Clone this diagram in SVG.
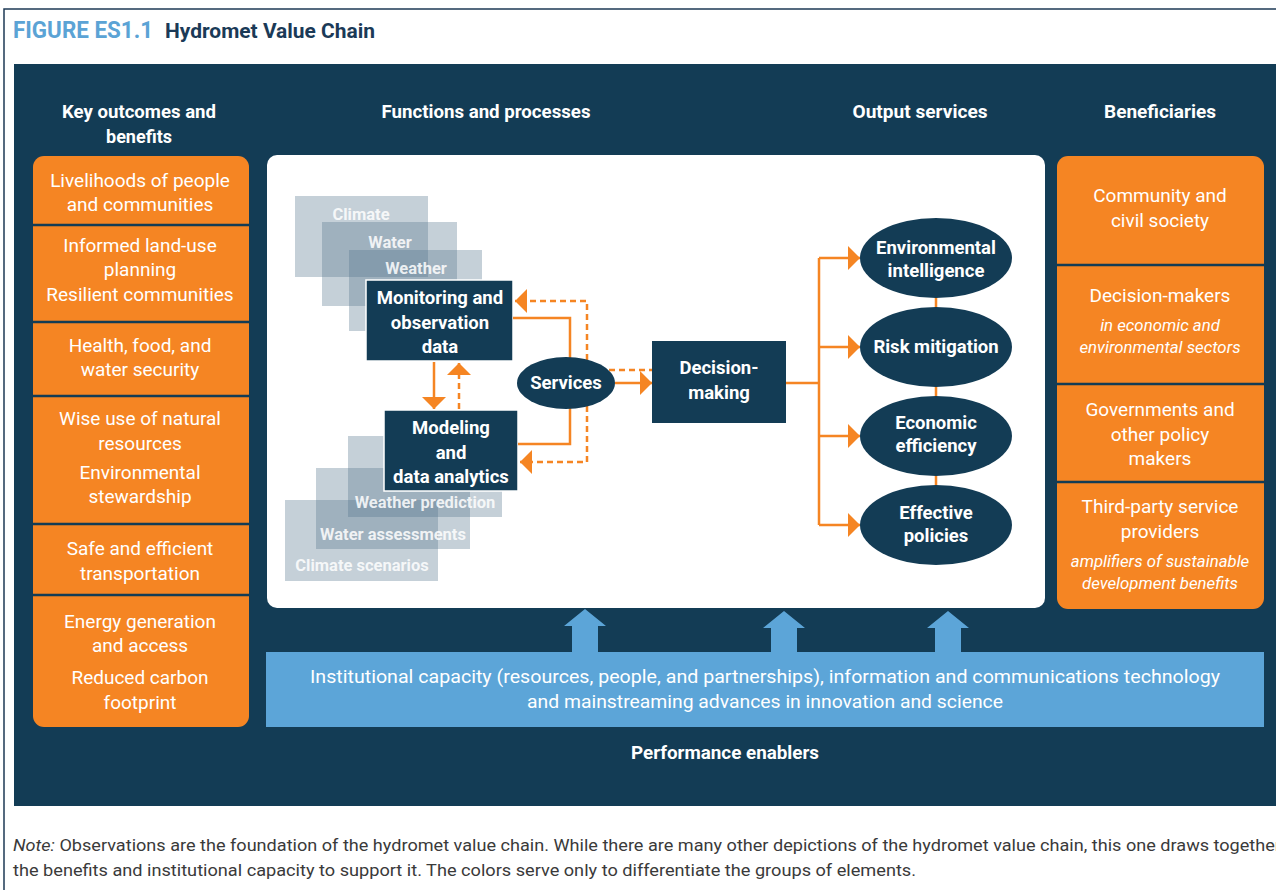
<svg xmlns="http://www.w3.org/2000/svg" width="1276" height="890" viewBox="0 0 1276 890">
<style>
text{font-family:Roboto,"Liberation Sans",sans-serif;}
.hd{font-size:18px;font-weight:bold;fill:#fff;text-anchor:middle;}
.ot{font-size:19px;fill:#fff;text-anchor:middle;}
.it{font-size:16.8px;font-style:italic;fill:#fff;text-anchor:middle;}
.nb{font-size:18.5px;font-weight:bold;fill:#fff;text-anchor:middle;}
.gt{font-size:16.5px;font-weight:bold;fill:#fff;fill-opacity:0.85;text-anchor:middle;}
.gb{fill:#56758c;fill-opacity:0.34;}
.dk{fill:#133c55;}
.sep{stroke:#133c55;stroke-width:2.5;}
.c{fill:none;stroke:#f58523;stroke-width:2.5;}
.d{fill:none;stroke:#f58523;stroke-width:2.5;stroke-dasharray:6 4;}
.bar{fill:#5ca5d8;}
</style>
<defs>
<marker id="ah" markerUnits="userSpaceOnUse" markerWidth="13" markerHeight="24" refX="12" refY="12" orient="auto">
<path d="M0,0 L12,12 L0,24 z" fill="#f58523"/>
</marker>
</defs>
<rect x="0" y="0" width="1276" height="890" fill="#fff"/>
<path d="M4,900 V9 H1280" fill="none" stroke="#1e3a55" stroke-width="1.5"/>
<g id="title">
<text x="13" y="38" font-size="23" font-weight="bold" fill="#5ba3d5" textLength="140" lengthAdjust="spacingAndGlyphs">FIGURE ES1.1</text>
<text x="165" y="38" font-size="20" font-weight="bold" fill="#1b3a57" textLength="210" lengthAdjust="spacingAndGlyphs">Hydromet Value Chain</text>
</g>
<rect x="14" y="64" width="1270" height="742" class="dk"/>
<g id="headers">
<text class="hd" x="139" y="118" textLength="154" lengthAdjust="spacingAndGlyphs">Key outcomes and</text>
<text class="hd" x="139" y="143">benefits</text>
<text class="hd" x="486" y="118" textLength="209" lengthAdjust="spacingAndGlyphs">Functions and processes</text>
<text class="hd" x="920" y="118" textLength="135" lengthAdjust="spacingAndGlyphs">Output services</text>
<text class="hd" x="1160" y="118" textLength="112" lengthAdjust="spacingAndGlyphs">Beneficiaries</text>
</g>
<g id="outcomes">
<rect x="33" y="156" width="216" height="571" rx="11" fill="#f58523"/>
<line class="sep" x1="33" y1="225" x2="249" y2="225"/>
<line class="sep" x1="33" y1="322" x2="249" y2="322"/>
<line class="sep" x1="33" y1="396" x2="249" y2="396"/>
<line class="sep" x1="33" y1="524" x2="249" y2="524"/>
<line class="sep" x1="33" y1="595" x2="249" y2="595"/>
<text class="ot" x="140" y="187">Livelihoods of people</text>
<text class="ot" x="140" y="211">and communities</text>
<text class="ot" x="140" y="252">Informed land-use</text>
<text class="ot" x="140" y="276">planning</text>
<text class="ot" x="140" y="301">Resilient communities</text>
<text class="ot" x="140" y="352">Health, food, and</text>
<text class="ot" x="140" y="376">water security</text>
<text class="ot" x="140" y="425">Wise use of natural</text>
<text class="ot" x="140" y="450">resources</text>
<text class="ot" x="140" y="479">Environmental</text>
<text class="ot" x="140" y="503">stewardship</text>
<text class="ot" x="140" y="555">Safe and efficient</text>
<text class="ot" x="140" y="580">transportation</text>
<text class="ot" x="140" y="628">Energy generation</text>
<text class="ot" x="140" y="652">and access</text>
<text class="ot" x="140" y="684">Reduced carbon</text>
<text class="ot" x="140" y="709">footprint</text>
</g>
<rect id="panel" x="267" y="155" width="778" height="453" rx="10" fill="#fff"/>
<g id="obs-stack">
<rect class="gb" x="295" y="196" width="133" height="81"/>
<text class="gt" x="361" y="220">Climate</text>
<rect class="gb" x="322" y="222" width="135" height="84"/>
<text class="gt" x="390" y="248">Water</text>
<rect class="gb" x="349" y="250" width="133" height="81"/>
<text class="gt" x="416" y="274">Weather</text>
</g>
<g id="model-stack">
<rect class="gb" x="285" y="500" width="153" height="81"/>
<text class="gt" x="362" y="571">Climate scenarios</text>
<rect class="gb" x="316" y="468" width="154" height="81"/>
<text class="gt" x="393" y="540">Water assessments</text>
<rect class="gb" x="348" y="436" width="154" height="81"/>
<text class="gt" x="425" y="508">Weather prediction</text>
</g>
<g id="monitoring">
<rect x="366" y="280" width="147" height="81" class="dk" stroke="#fff" stroke-width="1.5"/>
<text class="nb" x="440" y="304">Monitoring and</text>
<text class="nb" x="440" y="329">observation</text>
<text class="nb" x="440" y="353">data</text>
</g>
<g id="modeling">
<rect x="384" y="410" width="134" height="81" class="dk" stroke="#fff" stroke-width="1.5"/>
<text class="nb" x="451" y="434">Modeling</text>
<text class="nb" x="451" y="459">and</text>
<text class="nb" x="451" y="483">data analytics</text>
</g>
<g id="connectors">
<line class="c" x1="434" y1="362" x2="434" y2="409" marker-end="url(#ah)"/>
<line class="d" x1="459" y1="409" x2="459" y2="363" marker-end="url(#ah)"/>
<path class="c" d="M513,318 H570 V358"/>
<path class="c" d="M518,444 H570 V408"/>
<path class="d" d="M587,360 V301 H515" marker-end="url(#ah)"/>
<path class="d" d="M587,406 V462 H520" marker-end="url(#ah)"/>
<path class="d" d="M609,370 H652"/>
<line class="c" x1="615" y1="383" x2="652" y2="383" marker-end="url(#ah)"/>
<path class="c" d="M786,383 H819"/>
<path class="c" d="M819,258 V525"/>
<line class="c" x1="819" y1="258" x2="860" y2="258" marker-end="url(#ah)"/>
<line class="c" x1="819" y1="347" x2="860" y2="347" marker-end="url(#ah)"/>
<line class="c" x1="819" y1="436" x2="860" y2="436" marker-end="url(#ah)"/>
<line class="c" x1="819" y1="525" x2="860" y2="525" marker-end="url(#ah)"/>
<line class="c" x1="936" y1="258" x2="936" y2="525"/>
</g>
<g id="services">
<ellipse cx="566" cy="383" rx="49" ry="26" class="dk"/>
<text class="nb" x="566" y="389">Services</text>
</g>
<g id="decision">
<rect x="652" y="341" width="134" height="82" class="dk"/>
<text class="nb" x="719" y="374">Decision-</text>
<text class="nb" x="719" y="399">making</text>
</g>
<g id="env-intel">
<ellipse cx="936" cy="258" rx="76" ry="40" class="dk"/>
<text class="nb" x="936" y="254">Environmental</text>
<text class="nb" x="936" y="277">intelligence</text>
</g>
<g id="risk">
<ellipse cx="936" cy="347" rx="76" ry="40" class="dk"/>
<text class="nb" x="936" y="353">Risk mitigation</text>
</g>
<g id="econ">
<ellipse cx="936" cy="436" rx="76" ry="40" class="dk"/>
<text class="nb" x="936" y="429">Economic</text>
<text class="nb" x="936" y="452">efficiency</text>
</g>
<g id="policies">
<ellipse cx="936" cy="525" rx="76" ry="40" class="dk"/>
<text class="nb" x="936" y="519">Effective</text>
<text class="nb" x="936" y="542">policies</text>
</g>
<g id="beneficiaries">
<rect x="1057" y="156" width="207" height="453" rx="11" fill="#f58523"/>
<line class="sep" x1="1057" y1="265" x2="1264" y2="265"/>
<line class="sep" x1="1057" y1="384" x2="1264" y2="384"/>
<line class="sep" x1="1057" y1="482" x2="1264" y2="482"/>
<text class="ot" x="1160" y="202">Community and</text>
<text class="ot" x="1160" y="227">civil society</text>
<text class="ot" x="1160" y="302">Decision-makers</text>
<text class="it" x="1160" y="331">in economic and</text>
<text class="it" x="1160" y="353">environmental sectors</text>
<text class="ot" x="1160" y="416">Governments and</text>
<text class="ot" x="1160" y="441">other policy</text>
<text class="ot" x="1160" y="465">makers</text>
<text class="ot" x="1160" y="513">Third-party service</text>
<text class="ot" x="1160" y="538">providers</text>
<text class="it" x="1160" y="567">amplifiers of sustainable</text>
<text class="it" x="1160" y="589">development benefits</text>
</g>
<g id="enablers">
<polygon class="bar" points="585,609 606,626 598,626 598,653 572,653 572,626 564,626"/>
<polygon class="bar" points="784,611 805,628 797,628 797,653 771,653 771,628 763,628"/>
<polygon class="bar" points="948,611 969,628 961,628 961,653 935,653 935,628 927,628"/>
<rect class="bar" x="266" y="652" width="998" height="75"/>
<text class="ot" x="765" y="683" textLength="910" lengthAdjust="spacingAndGlyphs">Institutional capacity (resources, people, and partnerships), information and communications technology</text>
<text class="ot" x="765" y="708" textLength="476" lengthAdjust="spacingAndGlyphs">and mainstreaming advances in innovation and science</text>
<text class="hd" x="725" y="759" textLength="188" lengthAdjust="spacingAndGlyphs">Performance enablers</text>
</g>
<g id="note">
<text x="13" y="851" font-size="16" fill="#3a3a3a" textLength="1268" lengthAdjust="spacingAndGlyphs"><tspan font-style="italic">Note:</tspan> Observations are the foundation of the hydromet value chain. While there are many other depictions of the hydromet value chain, this one draws together</text>
<text x="13" y="876" font-size="16" fill="#3a3a3a" textLength="903" lengthAdjust="spacingAndGlyphs">the benefits and institutional capacity to support it. The colors serve only to differentiate the groups of elements.</text>
</g>
</svg>
